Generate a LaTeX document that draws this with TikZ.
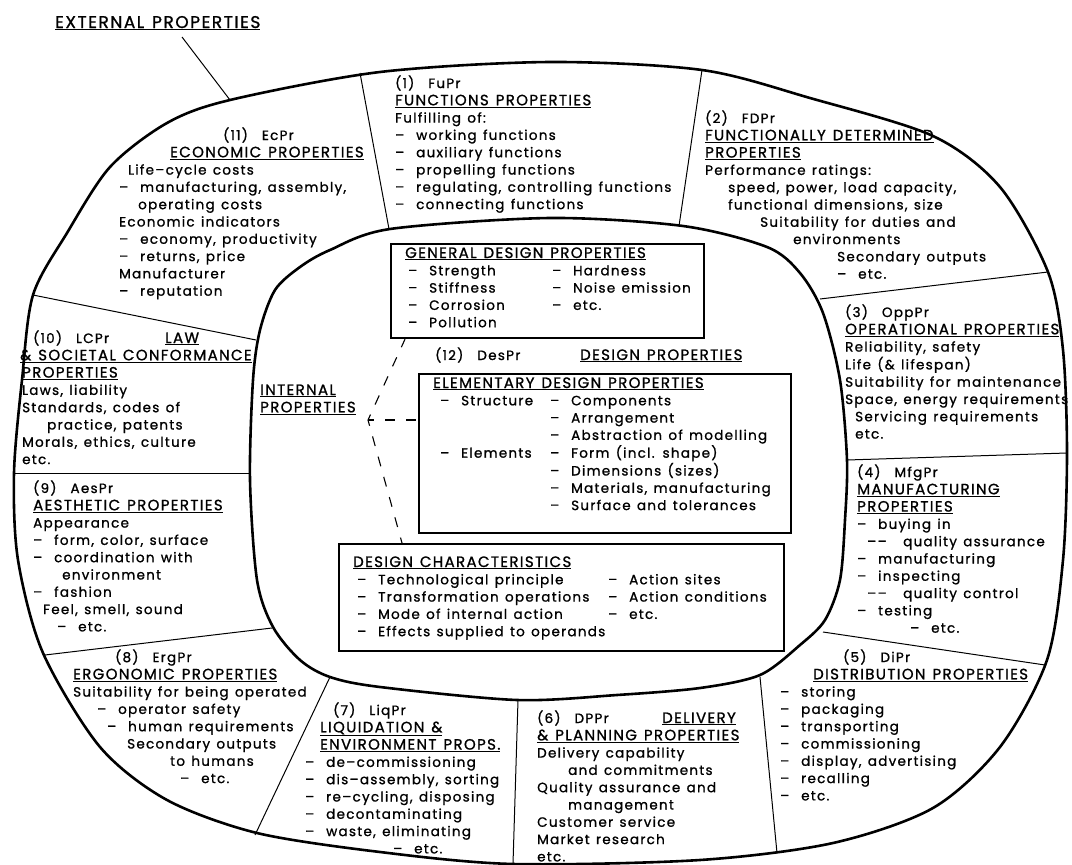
\documentclass[tikz,border=0pt]{standalone}
\usepackage{fontspec}
\setmainfont{Poppins}[WordSpace=1.3, LetterSpace=9.5, FakeBold=1.1]
\newfontfamily\capsf{Poppins}[WordSpace=1.3, LetterSpace=9, FakeBold=1.1]
\usetikzlibrary{calc}
\newcommand\undl[1]{\underline{\capsf\fontsize{15}{17.3}\selectfont #1}}
\newcommand\blk[1]{\begin{tabular}[t]{@{}l@{}}#1\end{tabular}}
\newcommand\ind[1]{\hspace*{#1pt}}
\newcommand\dsh{\makebox[21pt][l]{–}}
\newcommand\hg{\hspace{14pt}}
\tikzset{
  txt/.style={anchor=base west, inner sep=0pt, font=\fontsize{13.5}{17.3}\selectfont},
  ring/.style={line width=2.6pt, line join=round},
  divl/.style={line width=1pt},
  boxr/.style={draw, line width=2.2pt, anchor=north west, inner sep=0pt},
  dashl/.style={line width=1.1pt, dash pattern=on 10pt off 11pt, dash phase=4pt}
}
\begin{document}
\begin{tikzpicture}[x=1pt,y=-1pt]
\useasboundingbox (0,0) rectangle (1072,865);
% outer ring
\draw[ring] plot[smooth cycle, tension=0.5] coordinates {(550,62) (702,70) (810,98) (933,136) (1000,187) (1048,272) (1063,350) (1067,453) (1063,560) (1047,660) (1000,747) (933,808) (833,843) (700,860) (513,864) (380,852) (257,833) (167,800) (100,747) (43,653) (18,560) (14,473) (22,380) (33,295) (67,233) (110,167) (167,123) (230,100) (380,72)};
% inner ring
\draw[ring] plot[smooth cycle, tension=0.5] coordinates {(550,218) (683,226) (767,247) (800,273) (823,313) (840,380) (847,460) (845,520) (840,580) (825,620) (800,645) (760,675) (700,688) (617,695) (517,700) (380,687) (330,677) (300,660) (273,627) (257,580) (250,480) (253,380) (260,330) (275,290) (300,267) (330,250) (390,229)};
% dividers
\draw[divl] (360,73) -- (389,229);
\draw[divl] (702,70) -- (679,226);
\draw[divl] (1048,272) -- (820,299);
\draw[divl] (1067,453) -- (847,460);
\draw[divl] (1045,665) -- (823,632);
\draw[divl] (777,853) -- (760,677);
\draw[divl] (518,700) -- (513,864);
\draw[divl] (330,677) -- (255,835);
\draw[divl] (45,655) -- (272,628);
\draw[divl] (14,473) -- (250,473);
\draw[divl] (33,295) -- (256,340);
% external label
\node[txt] (ext) at (55,28) {\underline{\capsf\fontsize{17}{20}\selectfont EXTERNAL PROPERTIES}};
\coordinate (extend) at (230,100);
\draw[divl] (182,37) -- (extend);
% boxes
\node[boxr, minimum width=313pt, minimum height=94pt] (gen) at (390,243) {};
\node[boxr, minimum width=372pt, minimum height=159pt] (elem) at (418,373) {};
\node[boxr, minimum width=445pt, minimum height=107pt] (dc) at (338,543) {};
% segment texts
\node[txt] (b11) at (119,140) {\blk{\ind{104}(11)\hg EcPr\\
\ind{51}\undl{ECONOMIC PROPERTIES}\\
\ind{9}Life–cycle costs\\
\dsh manufacturing, assembly,\\
\ind{19}operating costs\\
Economic indicators\\
\dsh economy, productivity\\
\dsh returns, price\\
Manufacturer\\
\dsh reputation}};
\node[txt] (b1) at (395,88) {\blk{(1)\hg FuPr\\
\undl{FUNCTIONS PROPERTIES}\\
Fulfilling of:\\
\dsh working functions\\
\dsh auxiliary functions\\
\dsh propelling functions\\
\dsh regulating, controlling functions\\
\dsh connecting functions}};
\node[txt] (b2) at (705,123) {\blk{(2)\hg FDPr\\
\undl{FUNCTIONALLY DETERMINED}\\
\undl{PROPERTIES}\\
Performance ratings:\\
\ind{23}speed, power, load capacity,\\
\ind{23}functional dimensions, size\\
\ind{55}Suitability for duties and\\
\ind{88}environments\\
\ind{132}Secondary outputs\\
\ind{132}\dsh etc.}};
\node[txt] (b3) at (845,317) {\blk{(3)\hg OppPr\\
\undl{OPERATIONAL PROPERTIES}\\
Reliability, safety\\
Life (\& lifespan)\\
Suitability for maintenance\\
Space, energy requirements\\
\ind{10}Servicing requirements\\
\ind{10}etc.}};
\node[txt] (b4) at (857,477) {\blk{(4)\hg MfgPr\\
\undl{MANUFACTURING}\\
\undl{PROPERTIES}\\
\dsh buying in\\
\ind{10}\makebox[36pt][l]{––}quality assurance\\
\dsh manufacturing\\
\dsh inspecting\\
\ind{10}\makebox[36pt][l]{––}quality control\\
\dsh testing\\
\ind{53}\dsh etc.}};
\node[txt] (b5) at (780,662) {\blk{\ind{63}(5)\hg DiPr\\
\ind{33}\undl{DISTRIBUTION PROPERTIES}\\
\dsh storing\\
\dsh packaging\\
\dsh transporting\\
\dsh commissioning\\
\dsh display, advertising\\
\dsh recalling\\
\dsh etc.}};
\node[txt] (b6) at (537,723) {\blk{\makebox[125pt][l]{(6)\hg DPPr}\undl{DELIVERY}\\
\undl{\& PLANNING PROPERTIES}\\
Delivery capability\\
\ind{31}and commitments\\
Quality assurance and\\
\ind{31}management\\
Customer service\\
Market research\\
etc.}};
\node[txt] (b7) at (305,715) {\blk{\ind{28}(7)\hg LiqPr\\
\ind{15}\undl{LIQUIDATION \&}\\
\ind{15}\undl{ENVIRONMENT PROPS.}\\
\dsh de–commissioning\\
\dsh dis–assembly, sorting\\
\dsh re–cycling, disposing\\
\dsh decontaminating\\
\dsh waste, eliminating\\
\ind{88}\dsh etc.}};
\node[txt] (b8) at (73,662) {\blk{\ind{42}(8)\hg ErgPr\\
\undl{ERGONOMIC PROPERTIES}\\
Suitability for being operated\\
\ind{24}\dsh operator safety\\
\ind{34}\dsh human requirements\\
\ind{54}Secondary outputs\\
\ind{97}to humans\\
\ind{107}\dsh etc.}};
\node[txt] (b9) at (33,493) {\blk{(9)\hg AesPr\\
\undl{AESTHETIC PROPERTIES}\\
Appearance\\
\dsh form, color, surface\\
\dsh coordination with\\
\ind{29}environment\\
\dsh fashion\\
\ind{10}Feel, smell, sound\\
\ind{24}\dsh etc.}};
\node[txt] (b10) at (22,343) {\blk{\ind{11}\makebox[132pt][l]{(10)\hg LCPr}\undl{LAW}\\
\hspace*{-2pt}\undl{\& SOCIETAL CONFORMANCE}\\
\undl{PROPERTIES}\\
Laws, liability\\
Standards, codes of\\
\ind{25}practice, patents\\
Morals, ethics, culture\\
etc.}};
% internal
\node[txt] (int) at (260,395) {\blk{\undl{INTERNAL}\\ \undl{PROPERTIES}}};
\node[txt] (gent) at (405,258) {\blk{\undl{GENERAL DESIGN PROPERTIES}\\
\ind{3}\makebox[144pt][l]{\dsh Strength}\dsh Hardness\\
\ind{3}\makebox[144pt][l]{\dsh Stiffness}\dsh Noise emission\\
\ind{3}\makebox[144pt][l]{\dsh Corrosion}\dsh etc.\\
\ind{3}\dsh Pollution}};
\node[txt] (b12) at (435,360) {\makebox[145pt][l]{(12)\hg DesPr}\undl{DESIGN PROPERTIES}};
\node[txt] (elemt) at (433,388) {\blk{\undl{ELEMENTARY DESIGN PROPERTIES}\\
\ind{7}\makebox[110pt][l]{\dsh Structure}\dsh Components\\
\ind{117}\dsh Arrangement\\
\ind{117}\dsh Abstraction of modelling\\
\ind{7}\makebox[110pt][l]{\dsh Elements}\dsh Form (incl. shape)\\
\ind{117}\dsh Dimensions (sizes)\\
\ind{117}\dsh Materials, manufacturing\\
\ind{117}\dsh Surface and tolerances}};
\node[txt] (dct) at (353,567) {\blk{\undl{DESIGN CHARACTERISTICS}\\
\ind{4}\makebox[251pt][l]{\dsh Technological principle}\dsh Action sites\\
\ind{4}\makebox[251pt][l]{\dsh Transformation operations}\dsh Action conditions\\
\ind{4}\makebox[251pt][l]{\dsh Mode of internal action}\dsh etc.\\
\ind{4}\dsh Effects supplied to operands}};
% dashed connectors
\coordinate (j) at (368,420);
\draw[dashl] (j) -- ([xshift=15pt]gen.south west);
\draw[dashl] (j) -- (j -| elem.west);
\draw[dashl] (j) -- ([xshift=64pt]dc.north west);
\end{tikzpicture}
\end{document}
